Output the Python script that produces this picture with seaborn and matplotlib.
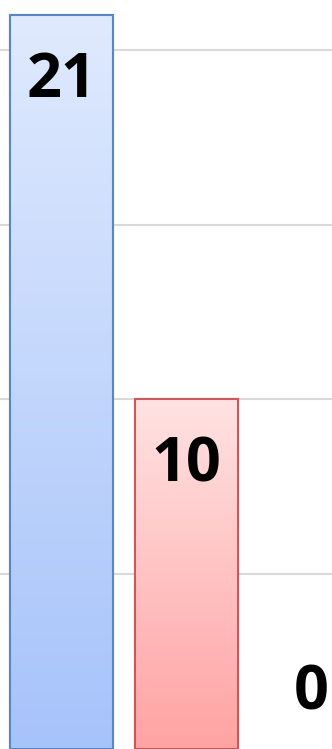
import numpy as np
import matplotlib
matplotlib.use("Agg")
import matplotlib.pyplot as plt
import seaborn as sns
from matplotlib.colors import LinearSegmentedColormap

categories = ["A", "B", "C"]
values = [21, 10, 0]
top_colors = ["#e0eafe", "#ffe2e2", "#ffffff"]
bottom_colors = ["#a6c3fa", "#ffa3a3", "#ffffff"]
edge_colors = ["#5b86c4", "#c9595a", "#ffffff"]

sns.set_theme(style="white")
plt.rcParams["font.family"] = ["Open Sans", "DejaVu Sans"]

fig = plt.figure(figsize=(3.32, 7.49), dpi=100)
ax = fig.add_axes([0, 0, 1, 1])

sns.barplot(x=categories, y=values, hue=categories, palette=bottom_colors,
            width=0.82, legend=False, ax=ax, linewidth=1.5, saturation=1)

ax.set_xlim(-0.492, 2.164)
ax.set_ylim(0, 21.43)
ax.set_yticks([5, 10, 15, 20])
ax.yaxis.grid(True, color="#d9d9d9", linewidth=1.5)
ax.set_axisbelow(True)
for s in ax.spines.values():
    s.set_visible(False)
ax.tick_params(left=False, bottom=False, labelleft=False, labelbottom=False)
ax.set_xlabel("")
ax.set_ylabel("")

# vertical gradient fill clipped to each bar
for patch, top, bot, ec in zip(ax.patches, top_colors, bottom_colors, edge_colors):
    patch.set_edgecolor(ec)
    x0, y0 = patch.get_x(), patch.get_y()
    w, h = patch.get_width(), patch.get_height()
    if h <= 0:
        patch.set_visible(False)
        continue
    cmap = LinearSegmentedColormap.from_list("g", [bot, top])
    grad = np.linspace(0, 1, 256).reshape(-1, 1)
    im = ax.imshow(grad, cmap=cmap, origin="lower", aspect="auto",
                   extent=[x0, x0 + w, y0, y0 + h], zorder=patch.get_zorder() + 0.1)
    im.set_clip_path(patch)
    edge = plt.Rectangle((x0, y0), w, h, fill=False, edgecolor=ec,
                         linewidth=1.5, zorder=patch.get_zorder() + 0.2)
    ax.add_patch(edge)

ax.set_xlim(-0.492, 2.164)
ax.set_ylim(0, 21.43)

for i, v in enumerate(values):
    if v > 0:
        ax.annotate(str(v), (i, v), xytext=(0, -26), textcoords="offset points",
                    ha="center", va="top", fontsize=44, fontweight="bold", color="black")
    else:
        ax.annotate(str(v), (i, v), xytext=(0, 18), textcoords="offset points",
                    ha="center", va="bottom", fontsize=44, fontweight="bold", color="black")

fig.savefig("out.png", dpi=100)
